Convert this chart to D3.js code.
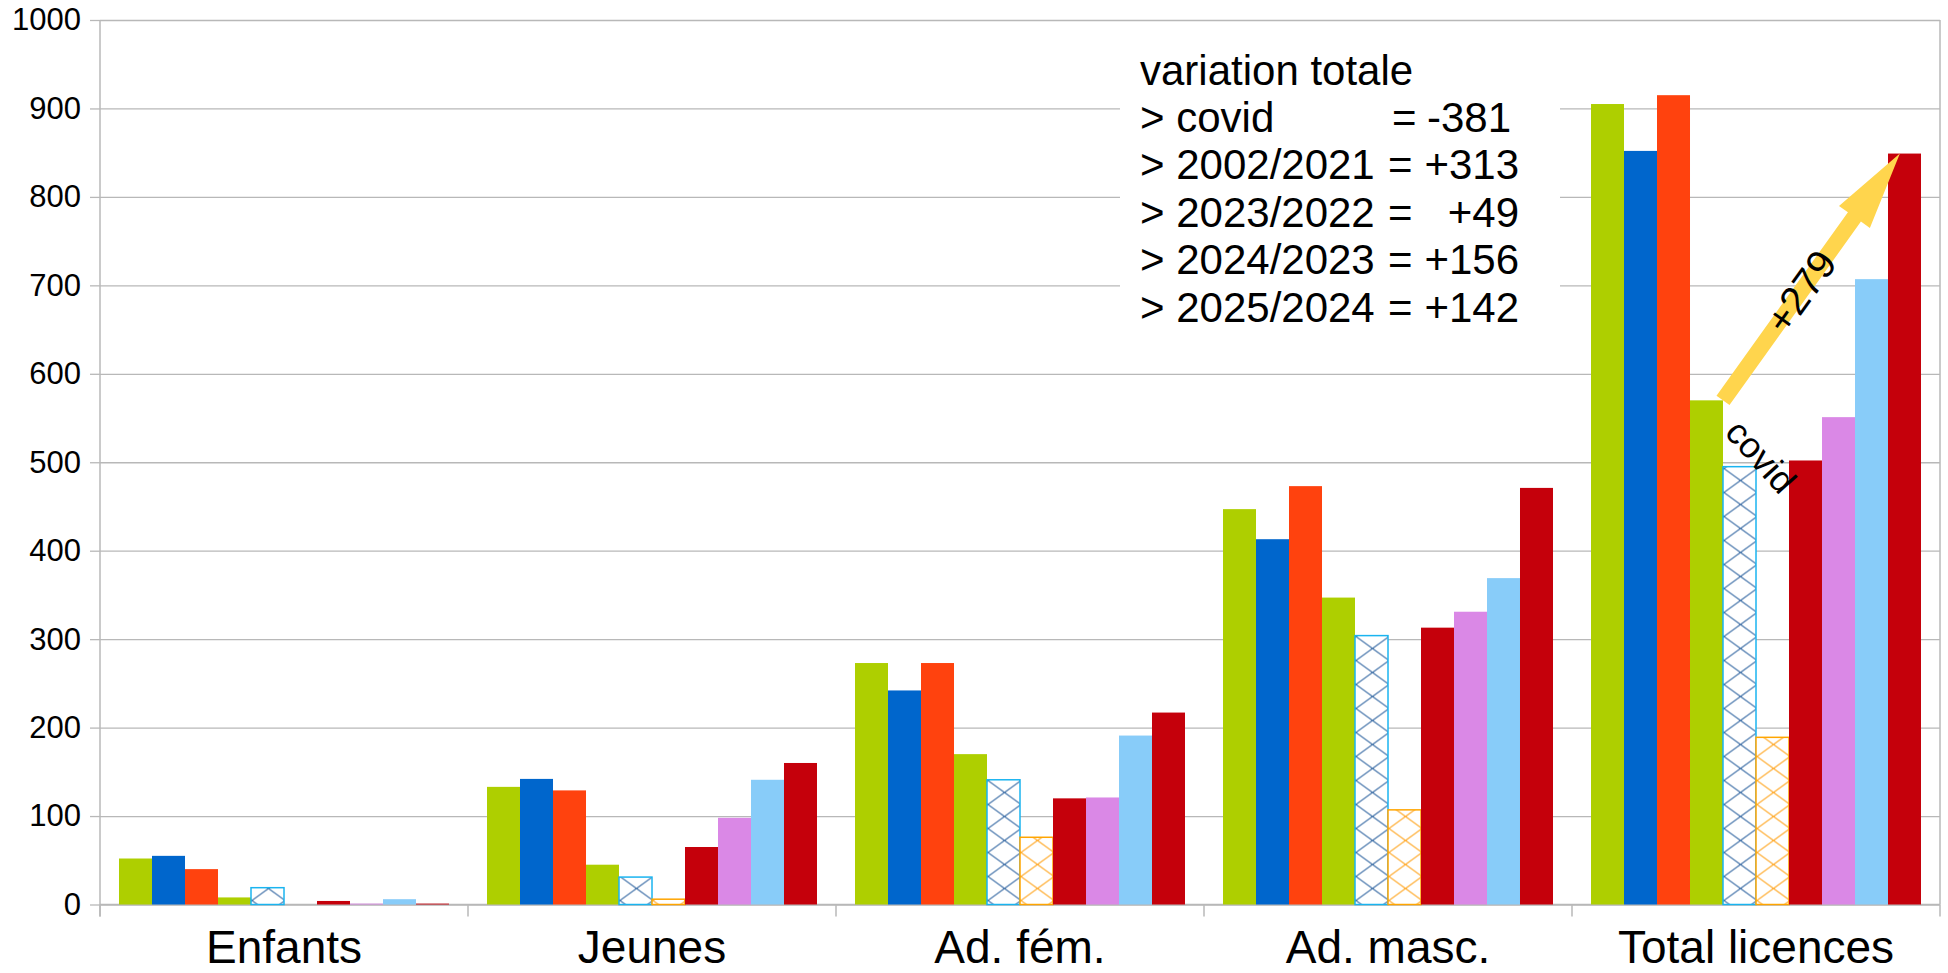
<!DOCTYPE html>
<meta charset="utf-8" />
<script src="https://d3js.org/d3.v7.min.js"></script>
<style>
    body { margin: 0; background: #fff; }
    svg { display: block; font-family: "Liberation Sans", Arial, sans-serif; }
</style>
<div id="chart"></div>

<script>
    // categories on the x axis
    const categories = ["Enfants", "Jeunes", "Ad. fém.", "Ad. masc.", "Total licences"];
    // one bar per season inside each group
    const seasons = ["s1", "s2", "s3", "s4", "covid1", "covid2", "s7", "s8", "s9", "s10"];

    // values per category, one per season
    const enfants = [52, 55, 40, 8, 19, 0, 4, 1, 6, 1];
    const jeunes = [133, 142, 129, 45, 31, 6, 65, 98, 141, 160];
    const adFem = [273, 242, 273, 170, 141, 76, 120, 121, 191, 217];
    const adMasc = [447, 413, 473, 347, 304, 107, 313, 331, 369, 471];
    const total = [905, 852, 915, 570, 495, 189, 502, 551, 707, 849];

    const yTicks = [0, 100, 200, 300, 400, 500, 600, 700, 800, 900, 1000];

    const noteTitle = "variation totale";
    const noteLabels = ["> covid", "> 2002/2021", "> 2023/2022", "> 2024/2023", "> 2025/2024"];
    const noteValues = ["-381", "+313", "+49", "+156", "+142"];

    const colors = ["#aecf00", "#0066cc", "#ff420e", "#aecf00", "hatchBlue", "hatchOrange", "#c5000b", "#da88e6", "#88ccf9", "#c5000b"];
    const hatch = {
        hatchBlue: { line: "#3f70a8", border: "#1ab4f0" },
        hatchOrange: { line: "#ffaa2a", border: "#ffa500" }
    };

    const rows = [enfants, jeunes, adFem, adMasc, total];

    const margin = { top: 20, right: 8, bottom: 68.5, left: 100 },
        width = 1948 - margin.left - margin.right,
        height = 973 - margin.top - margin.bottom;

    const root = d3.select("#chart")
        .append("svg")
        .attr("width", 1948)
        .attr("height", 973);
    const defs = root.append("defs");
    const svg = root.append("g")
        .attr("transform", `translate(${margin.left}, ${margin.top})`);

    const x0 = d3.scaleBand()
        .domain(categories)
        .range([0, width])
        .padding(0);
    const x1 = d3.scaleBand()
        .domain(seasons)
        .range([0, x0.bandwidth()])
        .paddingInner(0)
        .paddingOuter(0.576);
    const y = d3.scaleLinear()
        .domain([0, 1000])
        .range([height, 0]);

    // gridlines + y axis
    svg.append("g")
        .call(d3.axisLeft(y).tickValues(yTicks).tickSize(-width).tickFormat(""))
        .call(g => g.select(".domain").remove())
        .selectAll("line")
        .attr("stroke", "#b8b8b8")
        .attr("stroke-width", 1.3);

    const yAxis = svg.append("g")
        .call(d3.axisLeft(y).tickValues(yTicks).tickFormat(d3.format("d")).tickSize(10).tickSizeOuter(0).tickPadding(9));
    yAxis.select(".domain").remove();
    yAxis.selectAll("line").attr("stroke", "#b8b8b8").attr("stroke-width", 1.3);
    yAxis.selectAll("text")
        .style("font-size", "31px")
        .style("font-family", "Liberation Sans, Arial, sans-serif")
        .attr("fill", "#000");

    // frame lines
    svg.append("line").attr("x1", 0).attr("x2", 0).attr("y1", 0).attr("y2", height + 12)
        .attr("stroke", "#b8b8b8").attr("stroke-width", 1.5);
    svg.append("line").attr("x1", width).attr("x2", width).attr("y1", 0).attr("y2", height)
        .attr("stroke", "#b8b8b8").attr("stroke-width", 1.5);
    svg.append("line").attr("x1", 0).attr("x2", width).attr("y1", height).attr("y2", height)
        .attr("stroke", "#b8b8b8").attr("stroke-width", 1.5);

    // category boundary ticks
    svg.append("g")
        .selectAll("line")
        .data(d3.range(categories.length + 1))
        .join("line")
        .attr("x1", i => i * x0.step())
        .attr("x2", i => i * x0.step())
        .attr("y1", height)
        .attr("y2", height + 12)
        .attr("stroke", "#b8b8b8")
        .attr("stroke-width", 1.5);

    // category labels
    const xAxis = svg.append("g")
        .attr("transform", `translate(0, ${height})`)
        .call(d3.axisBottom(x0).tickSize(0).tickPadding(26));
    xAxis.select(".domain").remove();
    xAxis.selectAll("text")
        .style("font-size", "46px")
        .style("font-family", "Liberation Sans, Arial, sans-serif")
        .attr("fill", "#000");

    // white box behind the note
    svg.append("rect")
        .attr("x", 1120 - margin.left)
        .attr("y", 40 - margin.top)
        .attr("width", 440)
        .attr("height", 296)
        .attr("fill", "#fff");

    // bars
    const bars = [];
    rows.forEach((vals, ci) => {
        vals.forEach((v, si) => {
            bars.push({ cat: categories[ci], season: seasons[si], value: v, ci: ci, si: si });
        });
    });

    bars.forEach(d => {
        const c = colors[d.si];
        if (hatch[c]) {
            const bx = x0(d.cat) + x1(d.season);
            const bw = x1.bandwidth();
            const p = defs.append("pattern")
                .attr("id", `h-${d.ci}-${d.si}`)
                .attr("patternUnits", "userSpaceOnUse")
                .attr("x", bx + margin.left)
                .attr("y", height + margin.top)
                .attr("width", bw)
                .attr("height", 24);
            p.append("rect").attr("width", bw).attr("height", 24).attr("fill", "#fff");
            p.append("line").attr("x1", 0).attr("y1", 0).attr("x2", bw).attr("y2", 24)
                .attr("stroke", hatch[c].line).attr("stroke-width", 1.1);
            p.append("line").attr("x1", bw).attr("y1", 0).attr("x2", 0).attr("y2", 24)
                .attr("stroke", hatch[c].line).attr("stroke-width", 1.1);
        }
    });

    svg.append("g")
        .selectAll("rect")
        .data(bars)
        .join("rect")
        .attr("x", d => x0(d.cat) + x1(d.season))
        .attr("y", d => y(d.value))
        .attr("width", x1.bandwidth())
        .attr("height", d => height - y(d.value))
        .attr("fill", d => hatch[colors[d.si]] ? `url(#h-${d.ci}-${d.si})` : colors[d.si])
        .attr("stroke", d => hatch[colors[d.si]] ? hatch[colors[d.si]].border : "none")
        .attr("stroke-width", 1.5);

    // yellow arrow from covid low to last season
    const ti = categories.length - 1;
    const tail = [x0(categories[ti]) + x1(seasons[3]) + x1.bandwidth(), y(total[3])];
    const tip = [x0(categories[ti]) + x1(seasons[9]) + x1.bandwidth() * 0.36, y(total[9])];
    const dx = tip[0] - tail[0], dy = tip[1] - tail[1];
    const len = Math.sqrt(dx * dx + dy * dy);
    const u = [dx / len, dy / len], n = [-u[1], u[0]];
    const headLen = 78, shaftW = 8, headW = 19;
    const base = [tip[0] - u[0] * headLen, tip[1] - u[1] * headLen];
    const pt = (p, k) => [p[0] + n[0] * k, p[1] + n[1] * k];
    const arrowPts = [pt(tail, shaftW), pt(base, shaftW), pt(base, headW), tip,
        pt(base, -headW), pt(base, -shaftW), pt(tail, -shaftW)];
    svg.append("polygon")
        .attr("points", arrowPts.map(p => p.join(",")).join(" "))
        .attr("fill", "#ffd54d");

    const angle = Math.atan2(dy, dx) * 180 / Math.PI;
    const mid = [tail[0] + dx * 0.44, tail[1] + dy * 0.44];
    svg.append("text")
        .attr("transform", `translate(${mid[0]}, ${mid[1]}) rotate(${angle})`)
        .attr("text-anchor", "middle")
        .attr("dominant-baseline", "central")
        .style("font-size", "40px")
        .text("+279");

    svg.append("text")
        .attr("transform", `translate(${tail[0] + 38}, ${tail[1] + 56}) rotate(48)`)
        .attr("text-anchor", "middle")
        .attr("dominant-baseline", "central")
        .style("font-size", "36px")
        .text("covid");

    // note text
    const note = svg.append("g").style("font-size", "42px").attr("fill", "#000");
    note.append("text")
        .attr("x", 1140 - margin.left)
        .attr("y", 85 - margin.top)
        .text(noteTitle);
    noteLabels.forEach((lab, i) => {
        const by = 132 + i * 47.4 - margin.top;
        note.append("text").attr("x", 1140 - margin.left).attr("y", by).text(lab);
        note.append("text").attr("x", (i === 0 ? 1392 : 1388) - margin.left).attr("y", by).text("=");
        note.append("text").attr("x", (i === 0 ? 1511 : 1519) - margin.left).attr("y", by)
            .attr("text-anchor", "end").text(noteValues[i]);
    });
</script>
